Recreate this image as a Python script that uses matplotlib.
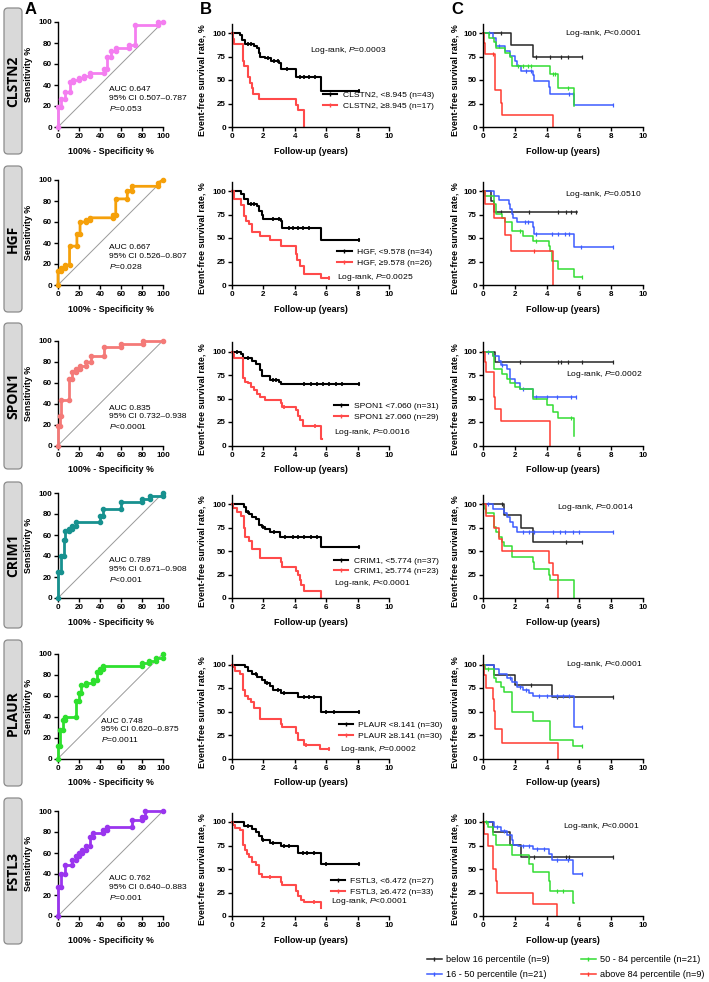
import numpy as np
import matplotlib
matplotlib.use("Agg")
import matplotlib.pyplot as plt
from matplotlib.patches import FancyBboxPatch
from matplotlib.lines import Line2D

plt.rcParams["font.family"] = ["Liberation Sans", "DejaVu Sans"]
plt.rcParams["mathtext.fontset"] = "custom"
plt.rcParams["mathtext.it"] = "Liberation Sans:italic"
plt.rcParams["mathtext.rm"] = "Liberation Sans"

# ---------------- data ----------------
markers = ["CLSTN2", "HGF", "SPON1", "CRIM1", "PLAUR", "FSTL3"]
roc_colors = ["#f47ef0", "#f5a00a", "#f47a78", "#17918f", "#2ee02e", "#9a35ee"]

roc_fpr_CLSTN2 = [0, 0, 3, 3, 7, 7, 11, 11, 14, 14, 20, 20, 25, 25, 30, 30, 44, 44, 47, 47, 50, 50, 55, 55, 68, 68, 73, 73, 95, 95, 100]
roc_tpr_CLSTN2 = [0, 19, 19, 27, 27, 33, 33, 43, 43, 45, 45, 47, 47, 49, 49, 51, 51, 55, 55, 67, 67, 72, 72, 75, 75, 78, 78, 97, 97, 100, 100]
roc_fpr_HGF = [0, 0, 3, 3, 7, 7, 11, 11, 18, 18, 21, 21, 27, 27, 30, 30, 52, 52, 55, 55, 66, 66, 70, 70, 95, 95, 100]
roc_tpr_HGF = [0, 13, 13, 16, 16, 19, 19, 37, 37, 49, 49, 60, 60, 62, 62, 64, 64, 67, 67, 82, 82, 90, 90, 94, 94, 97, 100]
roc_fpr_SPON1 = [0, 0, 2, 2, 3, 3, 10, 10, 13, 13, 17, 17, 21, 21, 27, 27, 31, 31, 44, 44, 60, 60, 81, 81, 100]
roc_tpr_SPON1 = [0, 19, 19, 28, 28, 43, 43, 63, 63, 70, 70, 73, 73, 76, 76, 80, 80, 85, 85, 94, 94, 97, 97, 100, 100]
roc_fpr_CRIM1 = [0, 0, 3, 3, 6, 6, 7, 7, 10, 10, 13, 13, 17, 17, 40, 40, 43, 43, 60, 60, 80, 80, 88, 88, 100, 100]
roc_tpr_CRIM1 = [0, 25, 25, 40, 40, 55, 55, 64, 64, 66, 66, 69, 69, 72, 72, 78, 78, 85, 85, 91, 91, 94, 94, 97, 97, 100]
roc_fpr_PLAUR = [0, 0, 2, 2, 5, 5, 7, 7, 17, 17, 20, 20, 22, 22, 27, 27, 33, 33, 37, 37, 40, 40, 43, 43, 80, 80, 87, 87, 93, 93, 100, 100]
roc_tpr_PLAUR = [0, 12, 12, 27, 27, 37, 37, 40, 40, 55, 55, 62, 62, 70, 70, 72, 72, 75, 75, 82, 82, 85, 85, 88, 88, 91, 91, 93, 93, 96, 96, 100]
roc_fpr_FSTL3 = [0, 0, 3, 3, 7, 7, 13, 13, 17, 17, 20, 20, 23, 23, 27, 27, 30, 30, 33, 33, 43, 43, 47, 47, 70, 70, 80, 80, 83, 83, 100]
roc_tpr_FSTL3 = [0, 28, 28, 40, 40, 49, 49, 53, 53, 57, 57, 60, 60, 63, 63, 67, 67, 75, 75, 79, 79, 82, 82, 85, 85, 91, 91, 94, 94, 100, 100]

auc_text = ["AUC 0.647\n95% CI 0.507\u20130.787\n$\\it{P}$=0.053",
            "AUC 0.667\n95% CI 0.526\u20130.807\n$\\it{P}$=0.028",
            "AUC 0.835\n95% CI 0.732\u20130.938\n$\\it{P}$<0.0001",
            "AUC 0.789\n95% CI 0.671\u20130.908\n$\\it{P}$<0.001",
            "AUC 0.748\n95% CI 0.620\u20130.875\n$\\it{P}$=0.0011",
            "AUC 0.762\n95% CI 0.640\u20130.883\n$\\it{P}$=0.001"]

# Panel B: two-group Kaplan-Meier (low = black, high = red)
bL_t_CLSTN2 = [0, 0.5, 0.65, 0.8, 1.4, 1.6, 1.7, 1.8, 2.1, 2.5, 3.0, 3.1, 4.1, 5.65]
bL_s_CLSTN2 = [100, 97.7, 93, 88.4, 86, 83.7, 79, 75, 73, 70.5, 68, 62, 53, 38]
bL_c_CLSTN2 = [1.0, 1.2, 2.3, 2.7, 2.9, 3.5, 4.3, 4.6, 4.9, 5.3, 8.1]
bH_t_CLSTN2 = [0, 0.05, 0.15, 0.7, 0.75, 1.0, 1.05, 1.15, 1.3, 1.35, 1.75, 4.1, 4.2, 4.6]
bH_s_CLSTN2 = [100, 94, 88, 70.6, 64.7, 58.8, 52.9, 47, 41.2, 35.3, 29.4, 23.5, 17.6, 0]
bH_c_CLSTN2 = []

bL_t_HGF = [0, 0.6, 0.75, 1.05, 1.6, 1.75, 1.9, 2.0, 3.1, 3.2, 5.7]
bL_s_HGF = [100, 97, 91, 86, 84, 79, 74, 70, 68, 61, 48]
bL_c_HGF = [1.2, 1.4, 2.6, 3.0, 3.6, 3.9, 4.2, 4.5, 4.9, 8.1]
bH_t_HGF = [0, 0.1, 0.6, 0.75, 0.9, 1.1, 1.3, 1.8, 2.4, 3.1, 4.05, 4.15, 4.3, 4.6, 5.7]
bH_s_HGF = [100, 92, 85, 73, 68, 65, 56, 52, 48, 42, 33, 27, 20, 12, 7]
bH_c_HGF = [6.2]

bL_t_SPON1 = [0, 0.55, 0.7, 1.3, 1.5, 1.8, 1.9, 2.4, 3.0, 3.1]
bL_s_SPON1 = [100, 97, 93, 90, 87, 80, 74, 70, 68, 65]
bL_c_SPON1 = [0.3, 1.0, 2.6, 2.8, 4.6, 5.0, 5.4, 5.8, 6.2, 6.6, 7.0, 8.1]
bH_t_SPON1 = [0, 0.05, 0.15, 0.7, 0.8, 1.0, 1.2, 1.4, 1.6, 1.8, 2.1, 3.1, 3.2, 4.1, 4.2, 4.35, 4.5, 5.7]
bH_s_SPON1 = [100, 97, 93, 72, 68, 66, 62, 59, 55, 52, 48, 45, 41, 38, 31, 27, 21, 7]
bH_c_SPON1 = [3.3, 5.3]

bL_t_CRIM1 = [0, 0.75, 0.9, 1.1, 1.3, 1.5, 1.7, 1.9, 2.1, 2.4, 3.05, 5.7]
bL_s_CRIM1 = [100, 97, 92, 89, 86, 84, 78, 76, 73, 70, 65, 54]
bL_c_CRIM1 = [1.0, 2.0, 2.7, 3.4, 3.9, 4.2, 4.6, 5.0, 5.4, 8.1]
bH_t_CRIM1 = [0, 0.05, 0.3, 0.6, 0.75, 0.85, 1.1, 1.3, 1.8, 3.1, 3.2, 4.1, 4.2, 4.3, 4.4, 4.6, 5.7]
bH_s_CRIM1 = [100, 96, 91, 87, 74, 65, 61, 52, 43, 38, 33, 29, 24, 19, 14, 7, 0]
bH_c_CRIM1 = []

bL_t_PLAUR = [0, 0.85, 1.0, 1.3, 1.6, 1.9, 2.1, 2.4, 2.6, 3.1, 4.2, 5.65]
bL_s_PLAUR = [100, 97, 93, 90, 87, 83, 80, 77, 73, 70, 65, 49]
bL_c_PLAUR = [1.5, 2.2, 2.9, 3.3, 4.6, 4.9, 5.2, 6.0, 6.5, 8.1]
bH_t_PLAUR = [0, 0.05, 0.2, 0.5, 0.7, 0.8, 1.0, 1.2, 1.4, 1.8, 3.1, 3.2, 4.1, 4.2, 4.6, 5.6]
bH_s_PLAUR = [100, 97, 93, 90, 73, 67, 63, 60, 54, 42, 37, 33, 27, 20, 14, 10]
bH_c_PLAUR = [4.7, 6.2]

bL_t_FSTL3 = [0, 0.75, 1.3, 1.5, 1.7, 1.9, 2.4, 3.1, 4.2, 5.65]
bL_s_FSTL3 = [100, 96, 93, 89, 85, 81, 78, 74, 67, 55]
bL_c_FSTL3 = [1.0, 2.0, 2.6, 3.3, 3.6, 4.5, 4.8, 5.2, 6.0, 8.1]
bH_t_FSTL3 = [0, 0.05, 0.2, 0.5, 0.7, 0.8, 0.95, 1.1, 1.3, 1.5, 1.7, 1.9, 3.1, 3.2, 4.1, 4.2, 4.4, 4.6, 5.65]
bH_s_FSTL3 = [100, 97, 94, 91, 76, 70, 66, 63, 57, 54, 45, 42, 36, 33, 27, 21, 17, 15, 9]
bH_c_FSTL3 = [2.4, 5.2]

b_low_end = [8.1, 8.1, 8.1, 8.1, 8.1, 8.1]
b_high_end = [4.6, 6.2, 5.75, 5.7, 6.2, 5.7]
b_labels_low = ["CLSTN2, <8.945 (n=43)", "HGF, <9.578 (n=34)", "SPON1 <7.060 (n=31)",
                "CRIM1, <5.774 (n=37)", "PLAUR <8.141 (n=30)", "FSTL3, <6.472 (n=27)"]
b_labels_high = ["CLSTN2, \u22658.945 (n=17)", "HGF, \u22659.578 (n=26)", "SPON1 \u22657.060 (n=29)",
                 "CRIM1, \u22655.774 (n=23)", "PLAUR \u22658.141 (n=30)", "FSTL3, \u22656.472 (n=33)"]
b_pvals = ["=0.0003", "=0.0025", "=0.0016", "<0.0001", "=0.0002", "<0.0001"]

# Panel C: four percentile groups (k <16, b 16-50, g 50-84, r >84 percentile)
c_k_t_CLSTN2 = [0, 1.75, 3.1]; c_k_s_CLSTN2 = [100, 87.5, 75]; c_k_c_CLSTN2 = [1.1, 3.3, 4.2, 4.9, 5.3, 6.2]
c_b_t_CLSTN2 = [0, 0.6, 0.8, 1.4, 1.7, 2.0, 2.1, 2.4, 3.1, 3.2, 4.1, 4.2, 5.7]
c_b_s_CLSTN2 = [100, 95, 86, 81, 76, 70, 65, 60, 55, 49, 43, 35, 23]; c_b_c_CLSTN2 = [0.4, 1.0, 2.7, 3.0, 5.4, 5.6, 8.1]
c_g_t_CLSTN2 = [0, 0.4, 0.7, 0.8, 1.4, 1.7, 1.8, 4.2, 4.7, 5.7]
c_g_s_CLSTN2 = [100, 95, 90, 84, 79, 74, 65, 56, 42, 22]; c_g_c_CLSTN2 = [2.2, 2.5, 2.8, 3.0, 4.4, 4.5, 5.3]
c_r_t_CLSTN2 = [0, 0.05, 0.15, 0.75, 1.1, 1.2, 4.35]; c_r_s_CLSTN2 = [100, 89, 78, 39, 26, 13, 0]; c_r_c_CLSTN2 = [0.6]

c_k_t_HGF = [0, 0.5, 0.7]; c_k_s_HGF = [100, 89, 78]; c_k_c_HGF = [1.1, 2.9, 4.7, 5.2, 5.5, 5.8]
c_b_t_HGF = [0, 0.7, 1.0, 1.6, 1.7, 1.8, 1.9, 2.1, 3.1, 3.2, 5.7]
c_b_s_HGF = [100, 95, 90, 86, 81, 76, 71, 67, 62, 54, 40]; c_b_c_HGF = [2.6, 2.8, 3.3, 4.3, 4.7, 5.1, 5.4, 6.1, 8.1]
c_g_t_HGF = [0, 0.1, 0.7, 0.8, 1.2, 1.4, 1.8, 2.5, 3.1, 4.1, 4.2, 4.3, 4.7, 5.7]
c_g_s_HGF = [100, 95, 86, 76, 71, 67, 57, 52, 47, 42, 36, 26, 17, 9]; c_g_c_HGF = [2.3, 3.3, 6.2]
c_r_t_HGF = [0, 0.15, 0.7, 1.35, 1.75, 4.35]; c_r_s_HGF = [100, 86, 71, 53, 36, 0]; c_r_c_HGF = [3.2]

c_k_t_SPON1 = [0, 0.75]; c_k_s_SPON1 = [100, 89]; c_k_c_SPON1 = [2.3, 4.7, 4.9, 5.3, 6.2, 8.1]
c_b_t_SPON1 = [0, 0.6, 1.0, 1.1, 1.5, 1.7, 2.0, 2.3, 3.1]
c_b_s_SPON1 = [100, 95, 90, 86, 81, 71, 66, 60, 52]; c_b_c_SPON1 = [0.3, 1.2, 2.5, 3.3, 4.0, 4.6, 5.5, 5.8]
c_g_t_SPON1 = [0, 0.6, 0.7, 1.2, 1.5, 1.7, 2.0, 2.3, 3.1, 4.0, 4.4, 4.7, 5.7]
c_g_s_SPON1 = [100, 95, 81, 76, 71, 66, 62, 60, 50, 43, 36, 29, 10]; c_g_c_SPON1 = [5.5]
c_r_t_SPON1 = [0, 0.1, 0.2, 0.7, 0.75, 1.1, 4.2]; c_r_s_SPON1 = [100, 89, 78, 52, 39, 26, 0]; c_r_c_SPON1 = []

c_k_t_CRIM1 = [0, 1.3, 2.4, 3.1]; c_k_s_CRIM1 = [100, 88, 75, 60]; c_k_c_CRIM1 = [1.2, 5.2, 6.2]
c_b_t_CRIM1 = [0, 0.6, 1.3, 1.5, 1.7, 1.9, 2.1]
c_b_s_CRIM1 = [100, 95, 90, 86, 81, 76, 70]; c_b_c_CRIM1 = [0.3, 2.5, 2.9, 3.2, 4.4, 4.8, 5.1, 5.6, 6.0, 8.1]
c_g_t_CRIM1 = [0, 0.1, 0.2, 0.7, 0.8, 1.0, 1.2, 1.3, 1.8, 3.1, 3.2, 4.1, 4.2, 5.7]
c_g_s_CRIM1 = [100, 95, 90, 76, 70, 65, 60, 55, 44, 38, 31, 25, 19, 0]; c_g_c_CRIM1 = []
c_r_t_CRIM1 = [0, 0.2, 0.7, 1.0, 1.2, 4.15, 4.35, 4.7]; c_r_s_CRIM1 = [100, 87.5, 75, 62.5, 50, 37.5, 25, 0]; c_r_c_CRIM1 = []

c_k_t_PLAUR = [0, 0.7, 2.0, 4.3]; c_k_s_PLAUR = [100, 89, 78, 65]; c_k_c_PLAUR = [3.0, 4.6, 8.1]
c_b_t_PLAUR = [0, 0.7, 1.0, 1.5, 1.8, 2.1, 2.5, 2.9, 3.1, 5.7]
c_b_s_PLAUR = [100, 95, 90, 86, 81, 76, 73, 70, 67, 34]; c_b_c_PLAUR = [1.7, 2.3, 2.7, 3.5, 4.0, 4.6, 5.0, 5.4, 6.2]
c_g_t_PLAUR = [0, 0.1, 0.7, 0.8, 1.1, 1.3, 1.8, 3.1, 4.2, 5.65]
c_g_s_PLAUR = [100, 95, 86, 81, 76, 71, 50, 40, 20, 13]; c_g_c_PLAUR = [0.3, 6.2]
c_r_t_PLAUR = [0, 0.05, 0.2, 0.6, 0.7, 0.75, 1.2, 4.7]; c_r_s_PLAUR = [100, 89, 75, 63, 51, 31, 16, 0]; c_r_c_PLAUR = []

c_k_t_FSTL3 = [0, 0.6, 1.7, 2.4]; c_k_s_FSTL3 = [100, 89, 76, 63]; c_k_c_FSTL3 = [2.9, 3.2, 5.2, 5.4, 8.1]
c_b_t_FSTL3 = [0, 0.7, 1.1, 1.5, 1.8, 1.9, 2.2, 3.1, 4.1, 4.3, 5.6]
c_b_s_FSTL3 = [100, 95, 90, 86, 81, 76, 74, 71, 66, 60, 45]; c_b_c_FSTL3 = [0.9, 1.3, 2.5, 2.9, 3.4, 3.8, 4.6, 5.3, 6.2]
c_g_t_FSTL3 = [0, 0.3, 0.6, 0.8, 1.8, 2.9, 3.1, 4.1, 4.2, 5.65]
c_g_s_FSTL3 = [100, 95, 86, 76, 65, 55, 47, 37, 27, 14]; c_g_c_FSTL3 = [0.2, 4.6, 5.0]
c_r_t_FSTL3 = [0, 0.05, 0.3, 0.6, 0.65, 0.8, 0.85, 3.1, 4.6]; c_r_s_FSTL3 = [100, 87.5, 75, 62.5, 50, 37.5, 25, 12.5, 0]; c_r_c_FSTL3 = []

c_ends = {"k": [6.2, 5.9, 8.1, 6.2, 8.1, 8.1],
          "b": [8.1, 8.1, 5.8, 8.1, 6.2, 6.2],
          "g": [5.7, 6.2, 5.7, 5.7, 6.2, 5.7],
          "r": [4.35, 4.35, 4.2, 4.7, 4.7, 4.6]}
c_pvals = ["<0.0001", "=0.0510", "=0.0002", "=0.0014", "<0.0001", "<0.0001"]
c_group_labels = ["below 16 percentile (n=9)", "16 - 50 percentile (n=21)",
                  "50 - 84 percentile (n=21)", "above 84 percentile (n=9)"]
c_colors = {"k": "#262626", "b": "#3d5cff", "g": "#33dd33", "r": "#ff3b30"}

g = globals()

# ---------------- layout ----------------
W, H = 709, 982
fig = plt.figure(figsize=(W / 100, H / 100), dpi=100)
bg = fig.add_axes([0, 0, 1, 1])
bg.set_xlim(0, W); bg.set_ylim(H, 0); bg.axis("off")

ROW_BOTTOM = [127, 285, 445.5, 598, 758.5, 916]
BOX_TOP = [8, 166, 323, 482, 640, 798]
BOX_H = 146

def add_ax(left, right, bottom, top):
    return fig.add_axes([left / W, 1 - bottom / H, (right - left) / W, (bottom - top) / H])

def style(ax):
    for s in ["top", "right"]:
        ax.spines[s].set_visible(False)
    for s in ["left", "bottom"]:
        ax.spines[s].set_linewidth(1.0)
    ax.tick_params(direction="out", length=3, width=1.0, labelsize=5.8, pad=1.5)
    for lab in ax.get_xticklabels() + ax.get_yticklabels():
        lab.set_fontweight("bold")

def km(ax, t, s, end, cens, color, lw, ms):
    x = list(t) + [end]
    y = list(s) + [s[-1]]
    ax.step(x, y, where="post", color=color, lw=lw, clip_on=False)
    if cens:
        tt = np.asarray(t)
        lev = [s[np.searchsorted(tt, c, side="right") - 1] for c in cens]
        ax.plot(cens, lev, ls="none", marker="|", ms=ms, mew=lw * 0.8, color=color, clip_on=False)

LBL = dict(fontsize=6.4, fontweight="bold")
TXT = 6.1

for i, m in enumerate(markers):
    b = ROW_BOTTOM[i]
    # row label box
    bg.add_patch(FancyBboxPatch((4, BOX_TOP[i]), 18, BOX_H,
                                boxstyle="round,pad=0,rounding_size=4",
                                fc="#d9d9d9", ec="#8c8c8c", lw=0.9))
    bg.text(13, BOX_TOP[i] + BOX_H / 2, m, rotation=90, ha="center", va="center",
            fontsize=10, fontweight="bold", family=["Open Sans", "DejaVu Sans"])

    # ---- A: ROC ----
    axA = add_ax(58, 163, b, b - 105)
    axA.set_xlim(0, 100); axA.set_ylim(0, 100)
    axA.plot(axA.get_xlim(), axA.get_ylim(), color="#9a9a9a", lw=0.7)
    axA.plot(g["roc_fpr_" + m], g["roc_tpr_" + m], color=roc_colors[i], lw=2.0,
             marker="o", ms=3.0, clip_on=False, zorder=3)
    axA.set_xticks(range(0, 101, 20)); axA.set_yticks(range(0, 101, 20))
    style(axA)
    axA.set_xlabel("100% - Specificity %", **LBL)
    axA.set_ylabel("Sensitivity %", **LBL)
    axA.xaxis.set_label_coords(0.5, -0.19)
    axA.yaxis.set_label_coords(-0.24, 0.5)
    ax_x = 41 if m == "PLAUR" else 49
    axA.text(ax_x, 39, auc_text[i], fontsize=TXT, va="top", ha="left", linespacing=1.3)

    # ---- B: KM two groups ----
    axB = add_ax(232, 389, b, b - 103.4)
    axB.set_xlim(0, 10); axB.set_ylim(0, 110)
    km(axB, g["bL_t_" + m], g["bL_s_" + m], b_low_end[i], g["bL_c_" + m], "black", 1.5, 3.5)
    km(axB, g["bH_t_" + m], g["bH_s_" + m], b_high_end[i], g["bH_c_" + m], "#ff4a4a", 1.5, 3.5)
    axB.set_xticks(range(0, 11, 2)); axB.set_yticks([0, 25, 50, 75, 100])
    style(axB)
    axB.set_xlabel("Follow-up (years)", **LBL)
    axB.set_ylabel("Event-free survival rate, %", **LBL)
    axB.xaxis.set_label_coords(0.5, -0.19)
    axB.yaxis.set_label_coords(-0.16, 0.45)
    handles = [Line2D([], [], color="black", lw=1.5, marker="|", ms=3.5),
               Line2D([], [], color="#ff4a4a", lw=1.5, marker="|", ms=3.5)]
    leg_pos = [(5.8, 38), (6.7, 39), (6.5, 46), (6.5, 44), (6.8, 40), (6.3, 41)][i]
    axB.legend(handles, [b_labels_low[i], b_labels_high[i]], loc="upper left",
               bbox_to_anchor=leg_pos, bbox_transform=axB.transData, frameon=False,
               fontsize=TXT, borderpad=0, borderaxespad=0, handlelength=1.7,
               handletextpad=0.6, labelspacing=0.33)
    lr_pos = [(5.0, 81), (6.7, 8.5), (6.5, 14), (6.5, 15), (6.9, 10), (6.3, 15)][i]
    axB.text(lr_pos[0], lr_pos[1], "Log-rank, $\\it{P}$" + b_pvals[i], fontsize=TXT,
             ha="left", va="center", clip_on=False)

    # ---- C: KM four groups ----
    axC = add_ax(483, 643, b, b - 103.4)
    axC.set_xlim(0, 10); axC.set_ylim(0, 110)
    for key in ["k", "b", "g", "r"]:
        km(axC, g["c_%s_t_%s" % (key, m)], g["c_%s_s_%s" % (key, m)], c_ends[key][i],
           g["c_%s_c_%s" % (key, m)], c_colors[key], 1.1, 2.8)
    axC.set_xticks(range(0, 11, 2)); axC.set_yticks([0, 25, 50, 75, 100])
    style(axC)
    axC.set_xlabel("Follow-up (years)", **LBL)
    axC.set_ylabel("Event-free survival rate, %", **LBL)
    axC.xaxis.set_label_coords(0.5, -0.19)
    axC.yaxis.set_label_coords(-0.145, 0.45)
    clr = [(5.1, 99), (5.1, 96), (5.2, 75), (4.6, 96), (5.2, 100), (5.0, 95)][i]
    axC.text(clr[0], clr[1], "Log-rank, $\\it{P}$" + c_pvals[i], fontsize=TXT,
             ha="left", va="center", clip_on=False)

# panel letters
for letter, x in [("A", 31), ("B", 206), ("C", 457)]:
    bg.text(x, 9, letter, fontsize=12, fontweight="bold", ha="center", va="center")

# bottom legend
fh = [Line2D([], [], color=c_colors[k], lw=1.1, marker="|", ms=3.5) for k in ["k", "b", "g", "r"]]
fig.legend(fh, c_group_labels, ncol=2, loc="upper left", bbox_to_anchor=(427 / W, 1 - 955 / H),
           frameon=False, fontsize=6.6, handlelength=1.6, handletextpad=0.5,
           columnspacing=3.4, labelspacing=0.63, borderpad=0, borderaxespad=0)

fig.savefig("out.png", dpi=100)
